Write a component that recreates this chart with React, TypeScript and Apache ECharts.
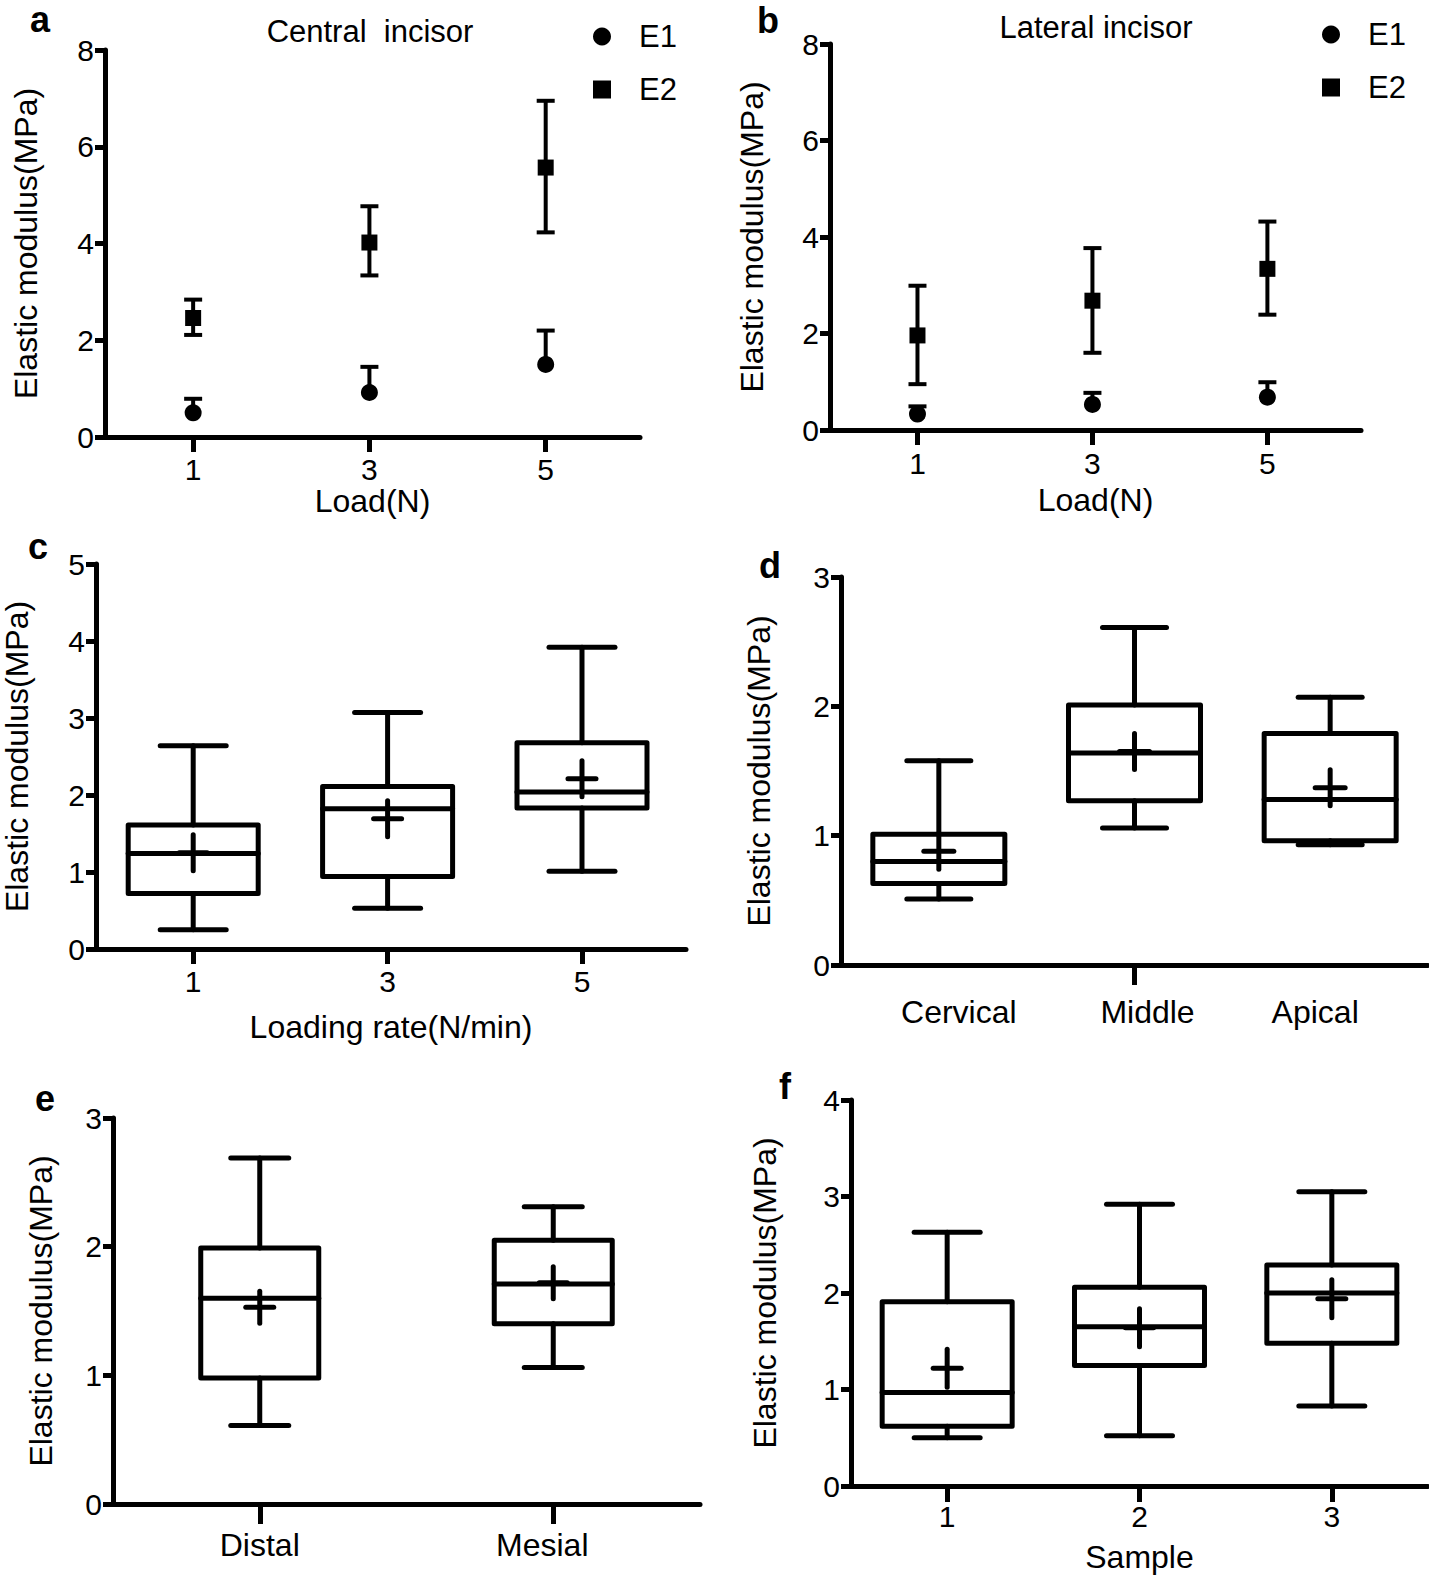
import React, { useEffect, useRef } from 'react';
import * as echarts from 'echarts';

const FONT = '"Liberation Sans", Arial, Helvetica, sans-serif';

// ---------- Panel a / b : E1 & E2 vs load ----------
const loadLevels = [1, 3, 5];
const centralE1 = [0.5, 0.92, 1.5];
const centralE1Upper = [0.79, 1.45, 2.2];
const centralE2 = [2.46, 4.02, 5.57];
const centralE2Lower = [2.11, 3.34, 4.23];
const centralE2Upper = [2.84, 4.77, 6.95];

const lateralE1 = [0.33, 0.53, 0.68];
const lateralE1Upper = [0.49, 0.77, 0.99];
const lateralE2 = [1.96, 2.68, 3.34];
const lateralE2Lower = [0.95, 1.6, 2.39];
const lateralE2Upper = [2.99, 3.77, 4.32];

// ---------- Panel c : loading rate ----------
const loadingRates = [1, 3, 5];
const rateMin = [0.25, 0.53, 1.01];
const rateQ1 = [0.72, 0.94, 1.83];
const rateMedian = [1.24, 1.82, 2.04];
const rateQ3 = [1.61, 2.11, 2.68];
const rateMax = [2.64, 3.07, 3.92];
const rateMean = [1.25, 1.69, 2.21];

// ---------- Panel d : region ----------
const regions = ['Cervical', 'Middle', 'Apical'];
const regionMin = [0.51, 1.06, 0.93];
const regionQ1 = [0.63, 1.27, 0.96];
const regionMedian = [0.8, 1.64, 1.28];
const regionQ3 = [1.01, 2.01, 1.79];
const regionMax = [1.58, 2.61, 2.07];
const regionMean = [0.88, 1.65, 1.37];

// ---------- Panel e : side ----------
const sides = ['Distal', 'Mesial'];
const sideMin = [0.61, 1.06];
const sideQ1 = [0.98, 1.4];
const sideMedian = [1.6, 1.71];
const sideQ3 = [1.99, 2.05];
const sideMax = [2.69, 2.31];
const sideMean = [1.53, 1.72];

// ---------- Panel f : sample ----------
const samples = ['1', '2', '3'];
const sampleMin = [0.5, 0.52, 0.83];
const sampleQ1 = [0.62, 1.25, 1.48];
const sampleMedian = [0.97, 1.65, 2.0];
const sampleQ3 = [1.91, 2.06, 2.29];
const sampleMax = [2.63, 2.92, 3.05];
const sampleMean = [1.22, 1.64, 1.94];

const Y_NAME = 'Elastic modulus(MPa)';

const LINE = { color: '#000', width: 5 };
const TICK_FONT = 30;

function yAxis(gridIndex: number, max: number, interval: number, nameGap: number) {
  return {
    type: 'value',
    gridIndex,
    min: 0,
    max,
    interval,
    name: Y_NAME,
    nameLocation: 'middle',
    nameGap,
    nameTextStyle: { fontFamily: FONT, fontSize: 32, color: '#000' },
    axisLine: { show: true, lineStyle: LINE },
    axisTick: { show: true, length: 10, lineStyle: LINE },
    axisLabel: { fontFamily: FONT, fontSize: TICK_FONT, color: '#000', margin: 11 },
    splitLine: { show: false },
  };
}

function xValueAxis(gridIndex: number, name: string, nameGap: number, labelMargin: number) {
  return {
    type: 'value',
    gridIndex,
    min: 0,
    max: 6.07,
    name,
    nameLocation: 'middle',
    nameGap,
    nameTextStyle: { fontFamily: FONT, fontSize: 32, color: '#000' },
    axisLine: { show: true, onZero: false, lineStyle: LINE },
    axisTick: { show: true, length: 15, customValues: loadLevels, lineStyle: LINE },
    axisLabel: { customValues: loadLevels, fontFamily: FONT, fontSize: TICK_FONT, color: '#000', margin: labelMargin },
    splitLine: { show: false },
  };
}

function xCatAxis(
  gridIndex: number,
  cats: string[],
  labelShift: number[],
  labelMargin: number,
  fontSize: number,
  tickLen: number,
  tickFn: (i: number) => boolean,
  name?: string,
  nameGap?: number
) {
  return {
    type: 'category',
    gridIndex,
    boundaryGap: true,
    data: cats.map((c, i) => ({
      value: c,
      textStyle: {
        padding: labelShift[i] >= 0 ? [0, 0, 0, 2 * labelShift[i]] : [0, -2 * labelShift[i], 0, 0],
      },
    })),
    name: name || '',
    nameLocation: 'middle',
    nameGap: nameGap || 40,
    nameTextStyle: { fontFamily: FONT, fontSize: 32, color: '#000' },
    axisLine: { show: true, onZero: false, lineStyle: LINE },
    axisTick: { show: true, length: tickLen, alignWithLabel: true, interval: (i: number) => tickFn(i), lineStyle: LINE },
    axisLabel: { fontFamily: FONT, fontSize, color: '#000', margin: labelMargin, interval: 0 },
    splitLine: { show: false },
  };
}

const errRender = (capW: number, lw: number) => (params: any, api: any) => {
  const x = api.value(0);
  const v = api.value(1);
  const lo = api.value(2);
  const hi = api.value(3);
  const pv = api.coord([x, v]);
  const pl = api.coord([x, lo]);
  const ph = api.coord([x, hi]);
  const cx = pv[0];
  const style = { stroke: '#000', lineWidth: lw, fill: 'none' };
  const children: any[] = [
    { type: 'line', shape: { x1: cx, y1: pl[1], x2: cx, y2: ph[1] }, style },
    { type: 'line', shape: { x1: cx - capW / 2, y1: ph[1], x2: cx + capW / 2, y2: ph[1] }, style },
  ];
  if (lo < v) {
    children.push({ type: 'line', shape: { x1: cx - capW / 2, y1: pl[1], x2: cx + capW / 2, y2: pl[1] }, style });
  }
  return { type: 'group', children };
};

const boxRender = (boxW: number, capW: number, plusW: number, plusH: number, lw: number) => (params: any, api: any) => {
  const x = api.value(0);
  const py = (i: number) => api.coord([x, api.value(i)])[1];
  const cx = api.coord([x, api.value(1)])[0];
  const yMin = py(1);
  const yQ1 = py(2);
  const yMed = py(3);
  const yQ3 = py(4);
  const yMax = py(5);
  const yMean = py(6);
  const st = { stroke: '#000', lineWidth: lw, fill: 'none', lineCap: 'round', lineJoin: 'round' };
  const ln = (x1: number, y1: number, x2: number, y2: number) => ({ type: 'line', shape: { x1, y1, x2, y2 }, style: st });
  return {
    type: 'group',
    children: [
      ln(cx, yMax, cx, yQ3),
      ln(cx, yQ1, cx, yMin),
      ln(cx - capW / 2, yMax, cx + capW / 2, yMax),
      ln(cx - capW / 2, yMin, cx + capW / 2, yMin),
      { type: 'rect', shape: { x: cx - boxW / 2, y: yQ3, width: boxW, height: yQ1 - yQ3 }, style: st },
      ln(cx - boxW / 2, yMed, cx + boxW / 2, yMed),
      ln(cx - plusW / 2, yMean, cx + plusW / 2, yMean),
      ln(cx, yMean - plusH / 2, cx, yMean + plusH / 2),
    ],
  };
};

function boxData(xs: number[], mn: number[], q1: number[], md: number[], q3: number[], mx: number[], mean: number[]) {
  return xs.map((x, i) => [x, mn[i], q1[i], md[i], q3[i], mx[i], mean[i]]);
}

function boxSeries(idx: number, data: any[], boxW: number, capW: number, plusW: number, plusH: number) {
  return {
    type: 'custom',
    xAxisIndex: idx,
    yAxisIndex: idx,
    clip: false,
    renderItem: boxRender(boxW, capW, plusW, plusH, 5),
    encode: { x: 0, y: [1, 2, 3, 4, 5, 6] },
    data,
    z: 3,
  };
}

function errSeries(idx: number, xs: number[], v: number[], lo: number[], hi: number[]) {
  return {
    type: 'custom',
    xAxisIndex: idx,
    yAxisIndex: idx,
    clip: false,
    renderItem: errRender(18, 4),
    encode: { x: 0, y: [1, 2, 3] },
    data: xs.map((x, i) => [x, v[i], lo[i], hi[i]]),
    z: 2,
  };
}

function pointSeries(idx: number, name: string, symbol: string, size: number, xs: number[], v: number[]) {
  return {
    type: 'scatter',
    name,
    xAxisIndex: idx,
    yAxisIndex: idx,
    symbol,
    symbolSize: size,
    itemStyle: { color: '#000', opacity: 1 },
    emphasis: { disabled: true },
    data: xs.map((x, i) => [x, v[i]]),
    z: 4,
  };
}

const letter = (t: string, x: number, y: number) => ({
  type: 'text',
  x,
  y,
  style: {
    text: t,
    fontFamily: FONT,
    fontSize: 36,
    fontWeight: 'bold',
    fill: '#000',
    align: 'center',
    verticalAlign: 'middle',
    textAlign: 'center',
    textVerticalAlign: 'middle',
  },
});

const title = (t: string, x: number, y: number) => ({
  type: 'text',
  x,
  y,
  style: {
    text: t,
    fontFamily: FONT,
    fontSize: 31,
    fill: '#000',
    align: 'center',
    verticalAlign: 'middle',
    textAlign: 'center',
    textVerticalAlign: 'middle',
  },
});

const legendCfg = (left: number, top: number) => ({
  left,
  top,
  orient: 'vertical',
  itemWidth: 18,
  itemHeight: 18,
  itemGap: 22,
  selectedMode: false,
  textStyle: { fontFamily: FONT, fontSize: 31, color: '#000', padding: [0, 0, 0, 23] },
  data: [
    { name: 'E1', icon: 'circle', itemStyle: { color: '#000', opacity: 1 } },
    { name: 'E2', icon: 'rect', itemStyle: { color: '#000', opacity: 1 } },
  ],
});

function buildOption() {
  return {
    animation: false,
    backgroundColor: '#fff',
    textStyle: { fontFamily: FONT },
    grid: [
      { left: 105, top: 50, width: 535, height: 387 },
      { left: 830, top: 44, width: 531, height: 386 },
      { left: 96, top: 564, width: 590, height: 385 },
      { left: 841, top: 577, width: 587, height: 388 },
      { left: 113, top: 1118, width: 587, height: 386 },
      { left: 851, top: 1100, width: 577, height: 386 },
    ],
    xAxis: [
      xValueAxis(0, 'Load(N)', 48, 17),
      xValueAxis(1, 'Load(N)', 54, 18),
      xValueAxis(2, 'Loading rate(N/min)', 62, 17),
      xCatAxis(3, regions, [20, 13, -15], 31, 32, 20, (i) => i === 1),
      xCatAxis(4, sides, [0, -11], 25, 32, 20, () => true),
      xCatAxis(5, samples, [0, 0, 0], 15, TICK_FONT, 16, () => true, 'Sample', 55),
    ],
    yAxis: [
      yAxis(0, 8, 2, 63),
      yAxis(1, 8, 2, 62),
      yAxis(2, 5, 1, 63),
      yAxis(3, 3, 1, 66),
      yAxis(4, 3, 1, 56),
      yAxis(5, 4, 1, 70),
    ],
    legend: [legendCfg(588, 16), legendCfg(1317, 14)],
    graphic: [
      letter('a', 40, 19),
      letter('b', 768, 20),
      letter('c', 38, 546),
      letter('d', 770, 565),
      letter('e', 45, 1098),
      letter('f', 785, 1086),
      title('Central  incisor', 370, 31),
      title('Lateral incisor', 1096, 27),
    ],
    series: [
      errSeries(0, loadLevels, centralE1, centralE1, centralE1Upper),
      errSeries(0, loadLevels, centralE2, centralE2Lower, centralE2Upper),
      pointSeries(0, 'E1', 'circle', 17, loadLevels, centralE1),
      pointSeries(0, 'E2', 'rect', 16, loadLevels, centralE2),
      errSeries(1, loadLevels, lateralE1, lateralE1, lateralE1Upper),
      errSeries(1, loadLevels, lateralE2, lateralE2Lower, lateralE2Upper),
      pointSeries(1, 'E1', 'circle', 17, loadLevels, lateralE1),
      pointSeries(1, 'E2', 'rect', 16, loadLevels, lateralE2),
      boxSeries(2, boxData(loadingRates, rateMin, rateQ1, rateMedian, rateQ3, rateMax, rateMean), 130, 66, 28, 36),
      boxSeries(3, boxData([0, 1, 2], regionMin, regionQ1, regionMedian, regionQ3, regionMax, regionMean), 132, 64, 30, 36),
      boxSeries(4, boxData([0, 1], sideMin, sideQ1, sideMedian, sideQ3, sideMax, sideMean), 118, 58, 28, 32),
      boxSeries(5, boxData([0, 1, 2], sampleMin, sampleQ1, sampleMedian, sampleQ3, sampleMax, sampleMean), 130, 66, 28, 38),
    ],
  };
}

export default function App() {
  const ref = useRef<HTMLDivElement>(null);
  useEffect(() => {
    if (!ref.current) return;
    const chart = echarts.init(ref.current, null, { renderer: 'svg', width: 1429, height: 1575 });
    chart.setOption(buildOption() as any);
    return () => chart.dispose();
  }, []);
  return (
    <div
      ref={ref}
      style={{ position: 'absolute', left: 0, top: 0, width: 1429, height: 1575, background: '#fff' }}
    />
  );
}
